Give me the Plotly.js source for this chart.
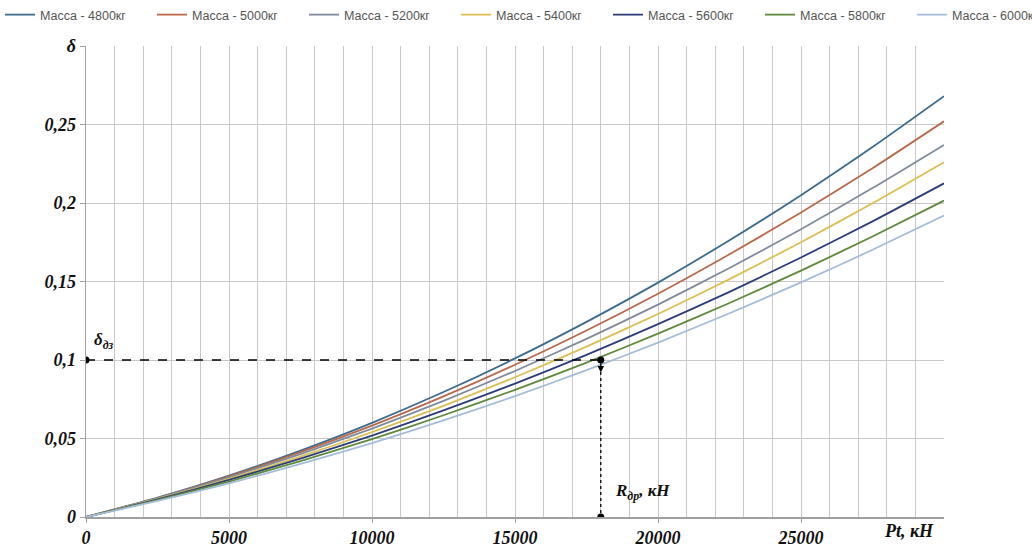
<!DOCTYPE html>
<html>
<head>
<meta charset="utf-8">
<script src="https://cdn.plot.ly/plotly-3.0.1.min.js"></script>
<style>html,body{margin:0;padding:0;background:#fff}#chart{width:1032px;height:549px}</style>
</head>
<body>
<div id="chart"></div>
<script>
// Pt, kN
const pt = [0, 2500, 5000, 7500, 10000, 12500, 15000, 17500, 20000, 22500, 25000, 27500, 30000];
const names = ["Масса - 4800кг", "Масса - 5000кг", "Масса - 5200кг", "Масса - 5400кг", "Масса - 5600кг", "Масса - 5800кг", "Масса - 6000кг"];
const m4800 = [0, 0.0123, 0.0263, 0.0423, 0.0600, 0.0796, 0.101, 0.1243, 0.1493, 0.1763, 0.2050, 0.2356, 0.268];
const m5000 = [0, 0.0121, 0.0259, 0.0413, 0.0582, 0.0768, 0.097, 0.1188, 0.1422, 0.1673, 0.1939, 0.2221, 0.252];
const m5200 = [0, 0.0120, 0.0253, 0.0401, 0.0563, 0.0740, 0.093, 0.1135, 0.1353, 0.1586, 0.1833, 0.2095, 0.237];
const m5400 = [0, 0.0115, 0.0243, 0.0385, 0.0540, 0.0708, 0.089, 0.1085, 0.1293, 0.1515, 0.1750, 0.1998, 0.226];
const m5600 = [0, 0.0112, 0.0236, 0.0372, 0.0519, 0.0679, 0.085, 0.1033, 0.1228, 0.1434, 0.1653, 0.1883, 0.2125];
const m5800 = [0, 0.0108, 0.0226, 0.0356, 0.0496, 0.0648, 0.081, 0.0983, 0.1168, 0.1363, 0.1569, 0.1787, 0.2015];
const m6000 = [0, 0.0102, 0.0214, 0.0338, 0.0471, 0.0615, 0.077, 0.0935, 0.1111, 0.1298, 0.1494, 0.1702, 0.192];
const series = [m4800, m5000, m5200, m5400, m5600, m5800, m6000];
const colors = ["#3d6b8e", "#b9684a", "#7f8b9c", "#dcbf52", "#2d3d7a", "#5f8a3c", "#a3bcd8"];

// reference point
const refX = [0, 18000, 18000];
const refY = [0.1, 0.1, 0];

const xTickVals = [0, 5000, 10000, 15000, 20000, 25000];
const xTickText = ["0", "5000", "10000", "15000", "20000", "25000"];
const yTickVals = [0, 0.05, 0.1, 0.15, 0.2, 0.25, 0.3];
const yTickText = ["0", "0,05", "0,1", "0,15", "0,2", "0,25", "δ"];

const tickFont = {family: "Liberation Serif, Times New Roman, serif", size: 18, color: "#111", weight: "bold", style: "italic"};

const legendIds = series.map((s, i) => i === 0 ? "legend" : "legend" + (i + 1));

const traces = series.map((s, i) => ({
  x: pt, y: s, type: "scatter", mode: "lines", name: names[i],
  legend: legendIds[i],
  line: {color: colors[i], width: 1.8, shape: "spline", smoothing: 0.6}
}));
traces.push({
  x: [refX[0], refX[1]], y: [refY[0], refY[1]], type: "scatter", mode: "lines",
  line: {color: "#000", width: 1.3, dash: "dash"}, showlegend: false, hoverinfo: "skip"
});
traces.push({
  x: [refX[1], refX[2]], y: [refY[1], refY[2]], type: "scatter", mode: "lines",
  line: {color: "#000", width: 1.3, dash: "dot"}, showlegend: false, hoverinfo: "skip"
});
traces.push({
  x: refX, y: refY, type: "scatter", mode: "markers",
  marker: {color: "#000", size: 7}, showlegend: false, hoverinfo: "skip"
});

const annFont = {family: "Liberation Serif, Times New Roman, serif", size: 17, color: "#111", weight: "bold", style: "italic"};
const legFont = {family: "Liberation Sans, Arial, sans-serif", size: 12.5, color: "#555"};

const layout = {
  width: 1032, height: 549,
  margin: {l: 86, r: 88, t: 46, b: 32},
  paper_bgcolor: "#fff", plot_bgcolor: "#fff",
  showlegend: true,
  xaxis: {
    range: [0, 30000], tickvals: xTickVals, ticktext: xTickText,
    showgrid: true, gridcolor: "#c8c8c8", gridwidth: 1,
    minor: {dtick: 1000, showgrid: true, gridcolor: "#c8c8c8", gridwidth: 1},
    showline: true, linecolor: "#a0a0a0", linewidth: 1.5,
    ticks: "outside", ticklen: 4, tickcolor: "#a0a0a0",
    tickfont: tickFont, zeroline: false, fixedrange: true
  },
  yaxis: {
    range: [0, 0.3], tickvals: yTickVals, ticktext: yTickText,
    showgrid: true, gridcolor: "#c8c8c8", gridwidth: 1,
    showline: true, linecolor: "#a0a0a0", linewidth: 1.5,
    ticks: "outside", ticklen: 5, tickcolor: "#a0a0a0",
    tickfont: tickFont, zeroline: false, fixedrange: true
  },
  annotations: [
    {x: 0, y: 0.1, xref: "x", yref: "y", text: "δ<sub>дз</sub>", showarrow: false,
     xanchor: "left", yanchor: "bottom", xshift: 6, yshift: 6, font: annFont},
    {x: 18000, y: 0, xref: "x", yref: "y", text: "R<sub>др</sub>, кН", showarrow: false,
     xanchor: "left", yanchor: "bottom", xshift: 12, yshift: 12, font: annFont},
    {x: 1, y: 0, xref: "paper", yref: "paper", text: "Pt, кН", showarrow: false,
     xanchor: "right", yanchor: "top", xshift: -8, yshift: -2, font: {family: annFont.family, size: 18, color: "#111", weight: "bold", style: "italic"}},
    {x: 18000, y: 0.092, ax: 18000, ay: 0.1, xref: "x", yref: "y", axref: "x", ayref: "y",
     text: "", showarrow: true, arrowhead: 2, arrowsize: 1, arrowwidth: 1.3, arrowcolor: "#000", standoff: 0}
  ]
};
legendIds.forEach((id, i) => {
  layout[id] = {orientation: "h", x: (i * 152) / 1032, y: 1, yanchor: "top", xanchor: "left",
    yref: "container", xref: "container", font: legFont, itemwidth: 30,
    bgcolor: "rgba(0,0,0,0)"};
});

Plotly.newPlot("chart", traces, layout, {displayModeBar: false, staticPlot: true});
</script>
</body>
</html>
